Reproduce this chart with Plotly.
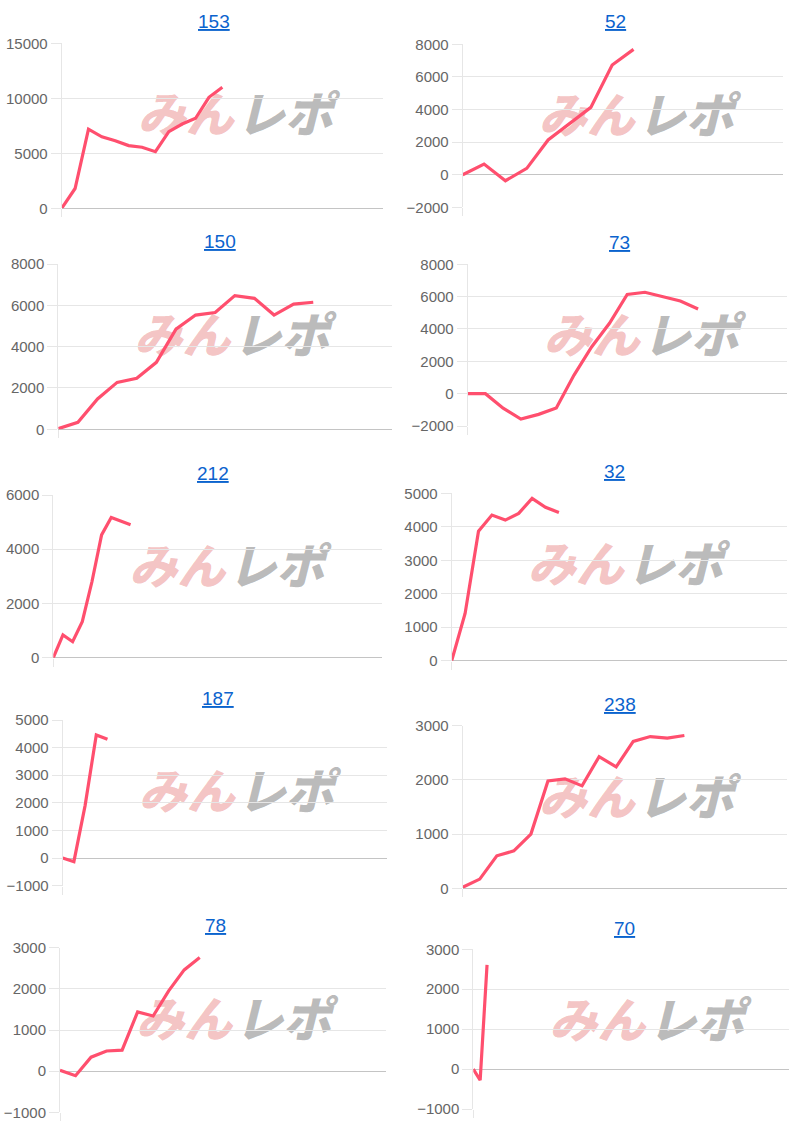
import plotly.graph_objects as go

# chart titles (machine numbers)
titles = ["153", "52", "150", "73", "212", "32", "187", "238", "78", "70"]

# cumulative values per chart
vals_153 = [0, 1800, 7200, 6500, 6150, 5700, 5550, 5150, 6970, 7660, 8180, 10090, 11000]
vals_52 = [0, 650, -370, 390, 2130, 3150, 4130, 6730, 7690]
vals_150 = [30, 340, 1470, 2270, 2470, 3240, 4850, 5530, 5650, 6470, 6340, 5530, 6060, 6150]
vals_73 = [0, 0, -900, -1570, -1280, -890, 1150, 2900, 4350, 6140, 6270, 6000, 5730, 5240]
vals_212 = [0, 840, 590, 1330, 2800, 4530, 5170, 5030, 4900]
vals_32 = [0, 1410, 3870, 4350, 4200, 4400, 4850, 4580, 4430]
vals_187 = [0, -130, 1900, 4460, 4300]
vals_238 = [20, 170, 600, 690, 1000, 1980, 2020, 1890, 2430, 2240, 2710, 2800, 2770, 2820]
vals_78 = [20, -110, 340, 490, 510, 1440, 1340, 1950, 2460, 2760]
vals_70 = [0, -280, 2610]

series = [vals_153, vals_52, vals_150, vals_73, vals_212,
          vals_32, vals_187, vals_238, vals_78, vals_70]

# number of x categories on each chart
n_labels = [25, 16, 18, 19, 35, 26, 30, 20, 22, 47]

# y axis ranges and steps
y_ranges = [(0, 15000), (-2000, 8000), (0, 8000), (-2000, 8000), (0, 6000),
            (0, 5000), (-1000, 5000), (0, 3000), (-1000, 3000), (-1000, 3000)]
y_steps = [5000, 2000, 2000, 2000, 2000, 1000, 1000, 1000, 1000, 1000]

# watermark pieces
mark_text = ["みん", "レポ"]
mark_color = ["rgba(222,70,70,0.32)", "rgba(110,110,110,0.48)"]

W, H = 800, 1127
# plot boxes in pixels: left, right, top, bottom, title x, title y
boxes = [
    (61.7, 383.0, 43.3, 208.3, 213.7, 21.0),
    (462.7, 783.0, 44.3, 207.3, 615.0, 21.7),
    (58.3, 391.7, 264.0, 429.3, 220.0, 241.0),
    (467.7, 786.7, 264.3, 426.0, 619.5, 243.0),
    (53.3, 381.7, 495.0, 657.7, 213.0, 473.0),
    (451.7, 786.7, 493.3, 660.7, 614.0, 472.0),
    (62.7, 387.3, 720.0, 885.7, 217.7, 698.0),
    (462.7, 786.7, 725.7, 888.3, 619.7, 704.0),
    (60.0, 386.0, 947.7, 1112.3, 215.5, 925.0),
    (473.3, 789.3, 949.3, 1109.0, 624.2, 928.3),
]

LINE = "#ff4f6e"
GRID = "#e6e6e6"
ZERO = "#c4c4c4"
TICKFONT = dict(family="Liberation Sans, Arial, sans-serif", size=15, color="#666666")

fig = go.Figure()
layout = {}
annotations = []
shapes = []

for i, (vals, n, yr, step, box, title) in enumerate(
        zip(series, n_labels, y_ranges, y_steps, boxes, titles)):
    k = "" if i == 0 else str(i + 1)
    left, right, top, bottom, tx, ty = box

    fig.add_trace(go.Scatter(
        x=list(range(len(vals))), y=vals, mode="lines",
        line=dict(color=LINE, width=3.2, shape="linear"),
        xaxis="x" + k, yaxis="y" + k, showlegend=False,
    ))

    layout["xaxis" + k] = dict(
        domain=[left / W, right / W], anchor="y" + k, automargin=False,
        range=[0, n - 1], showgrid=False, zeroline=False, showline=False,
        tickvals=[0], ticks="outside", ticklen=8, tickcolor=GRID,
        showticklabels=False, fixedrange=True,
    )
    layout["yaxis" + k] = dict(
        domain=[1 - bottom / H, 1 - top / H], anchor="x" + k, automargin=False,
        range=list(yr), dtick=step, tick0=0, tickformat="d",
        showgrid=True, gridcolor=GRID, gridwidth=1,
        zeroline=True, zerolinecolor=ZERO, zerolinewidth=1,
        showline=True, linecolor=GRID, linewidth=1,
        ticks="outside", ticklen=10, tickcolor=GRID,
        tickfont=TICKFONT, fixedrange=True,
    )

    # linked chart title
    annotations.append(dict(
        text="<u>" + title + "</u>", xref="paper", yref="paper",
        x=tx / W, y=1 - ty / H, xanchor="center", yanchor="middle",
        showarrow=False,
        font=dict(family="Liberation Sans, Arial, sans-serif", size=19, color="#0b63ce"),
    ))

    # site watermark, kept under the line
    pw, ph = right - left, bottom - top
    for j, (txt, col) in enumerate(zip(mark_text, mark_color)):
        cx = 124 + 99 * j
        cy = 76
        shapes.append(dict(
            type="rect", layer="below",
            xref="x" + k + " domain", yref="y" + k + " domain",
            x0=(cx - 50) / pw, x1=(cx + 50) / pw,
            y0=1 - (cy + 25) / ph, y1=1 - (cy - 25) / ph,
            line=dict(width=0), fillcolor="rgba(0,0,0,0)",
            label=dict(text="<i>" + txt + "</i>", textposition="middle center",
                       font=dict(family="Noto Sans CJK JP", size=48, color=col, weight=900)),
        ))

fig.update_layout(
    width=W, height=H,
    margin=dict(l=0, r=0, t=0, b=0),
    paper_bgcolor="white", plot_bgcolor="white",
    annotations=annotations, shapes=shapes,
    **layout,
)

# drop the browser's default page margin so the figure sits at the top-left corner
fig.write_html("out.html", config={"displayModeBar": False},
               post_script="document.body.style.margin='0px';")
